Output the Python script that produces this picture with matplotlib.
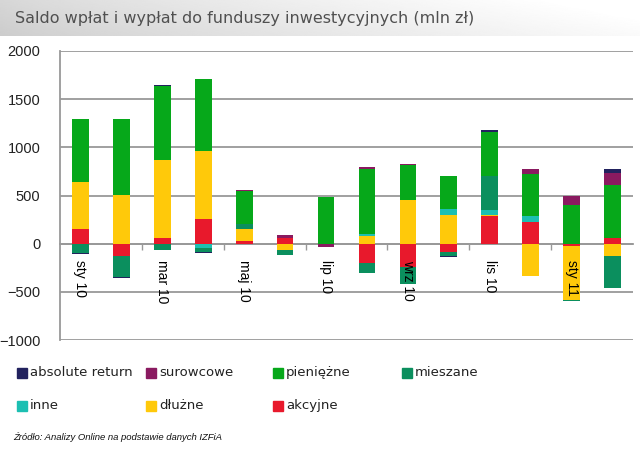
import numpy as np
import matplotlib
matplotlib.use("Agg")
import matplotlib.pyplot as plt
from matplotlib.patches import Rectangle

plt.rcParams['font.family'] = ['DejaVu Sans']

# miesiące (etykiety co drugi miesiąc)
months = ['sty 10', 'lut 10', 'mar 10', 'kwi 10', 'maj 10', 'cze 10', 'lip 10',
          'sie 10', 'wrz 10', 'paź 10', 'lis 10', 'gru 10', 'sty 11', 'lut 11']

# saldo w mln zł
akcyjne = [150, -130, 60, 255, 30, 60, 0, -200, -245, -85, 285, 225, -20, 57]
dluzne = [490, 510, 810, 705, 120, -65, 0, 75, 450, 300, 15, -340, -560, -130]
inne = [0, 0, 0, -40, 0, 0, 0, 30, 0, 55, 50, 65, 0, 0]
mieszane = [-100, -220, -65, -45, 50, -50, 0, -100, -175, -45, 355, 0, -20, -330]
pieniezne = [650, 780, 770, 750, 345, 0, 480, 675, 365, 345, 455, 430, 400, 548]
surowcowe = [0, 0, 0, 0, 10, 25, -30, 15, 10, 0, 0, 60, 90, 125]
absolute = [-10, -10, 10, -10, 0, 0, 0, 0, 0, -8, 15, 0, 0, 50]

series = [
    ('akcyjne', akcyjne, '#e8192c'),
    ('dłużne', dluzne, '#ffc90a'),
    ('inne', inne, '#1cbfb2'),
    ('mieszane', mieszane, '#0b8f5e'),
    ('pieniężne', pieniezne, '#06a81a'),
    ('surowcowe', surowcowe, '#8a1a60'),
    ('absolute return', absolute, '#22225e'),
]
colors = {name: c for name, _, c in series}

fig = plt.figure(figsize=(6.4, 4.58), dpi=100)
W, H = 640.0, 458.0

# pasek tytułu z gradientem
bar_ax = fig.add_axes([0, 1 - 36 / H, 1, 36 / H])
gx = np.linspace(0, 1, 300)
gy = np.linspace(0, 1, 40)
grad = 0.80 + 0.18 * gx[None, :] ** 0.8 + 0.04 * (1 - gy[:, None])
grad = np.clip(grad, 0, 1)
bar_ax.imshow(grad, cmap='gray', vmin=0, vmax=1, aspect='auto', extent=[0, 1, 0, 1])
bar_ax.axis('off')
fig.text(15 / W, 1 - 18 / H, 'Saldo wpłat i wypłat do funduszy inwestycyjnych (mln zł)',
         fontsize=11.5, color='#505050', va='center', ha='left')

ax = fig.add_axes([60 / W, 1 - 340 / H, (633 - 60) / W, (340 - 51) / H])
x = np.arange(len(months))
pos_bottom = np.zeros(len(months))
neg_bottom = np.zeros(len(months))
for name, vals, col in series:
    v = np.array(vals, dtype=float)
    p = np.where(v > 0, v, 0)
    n = np.where(v < 0, v, 0)
    ax.bar(x, p, 0.41, bottom=pos_bottom, color=col, zorder=3, linewidth=0)
    ax.bar(x, n, 0.41, bottom=neg_bottom, color=col, zorder=3, linewidth=0)
    pos_bottom += p
    neg_bottom += n

ax.set_xlim(-0.5, len(months) - 0.5)
ax.set_ylim(-1000, 2000)
ax.set_yticks(range(-1000, 2001, 500))
ax.yaxis.grid(True, color='#999999', linewidth=1.3, zorder=1)
ax.tick_params(axis='y', length=0, pad=14, labelsize=10.5, labelcolor='#222222')
for lab in ax.get_yticklabels():
    lab.set_family(['Liberation Sans', 'DejaVu Sans'])

for s in ['top', 'right']:
    ax.spines[s].set_visible(False)
ax.spines['left'].set_color('#999999')
ax.spines['left'].set_linewidth(1.3)
ax.spines['bottom'].set_position(('data', 0))
ax.spines['bottom'].set_color('#999999')
ax.spines['bottom'].set_linewidth(1.3)

ax.set_xticks(x[::2])
ax.set_xticklabels(months[::2], rotation=270, fontsize=10,
                   family=['Liberation Sans', 'DejaVu Sans'])
ax.tick_params(axis='x', which='major', length=0, pad=12)
ax.set_xticks(np.arange(1.5, len(months) - 1, 2), minor=True)
ax.tick_params(axis='x', which='minor', length=4, color='#999999', width=1)
ax.xaxis.set_zorder(5)  # etykiety miesięcy nad słupkami

# legenda
legend_rows = [['absolute return', 'surowcowe', 'pieniężne', 'mieszane'],
               ['inne', 'dłużne', 'akcyjne']]
col_x = [17, 146, 273, 402]
row_y = [372.5, 405.5]
for r, row in enumerate(legend_rows):
    for c, name in enumerate(row):
        fig.add_artist(Rectangle((col_x[c] / W, 1 - (row_y[r] + 5) / H), 10 / W, 10 / H,
                                 transform=fig.transFigure, color=colors[name]))
        fig.text((col_x[c] + 13) / W, 1 - row_y[r] / H, name, fontsize=9.5,
                 va='center', ha='left', color='#222222')

fig.text(13 / W, 1 - 437 / H, 'Źródło: Analizy Online na podstawie danych IZFiA',
         fontsize=6.8, style='italic', va='center', ha='left', color='#111111',
         family=['Liberation Sans', 'DejaVu Sans'])

fig.savefig('out.png', dpi=100)
